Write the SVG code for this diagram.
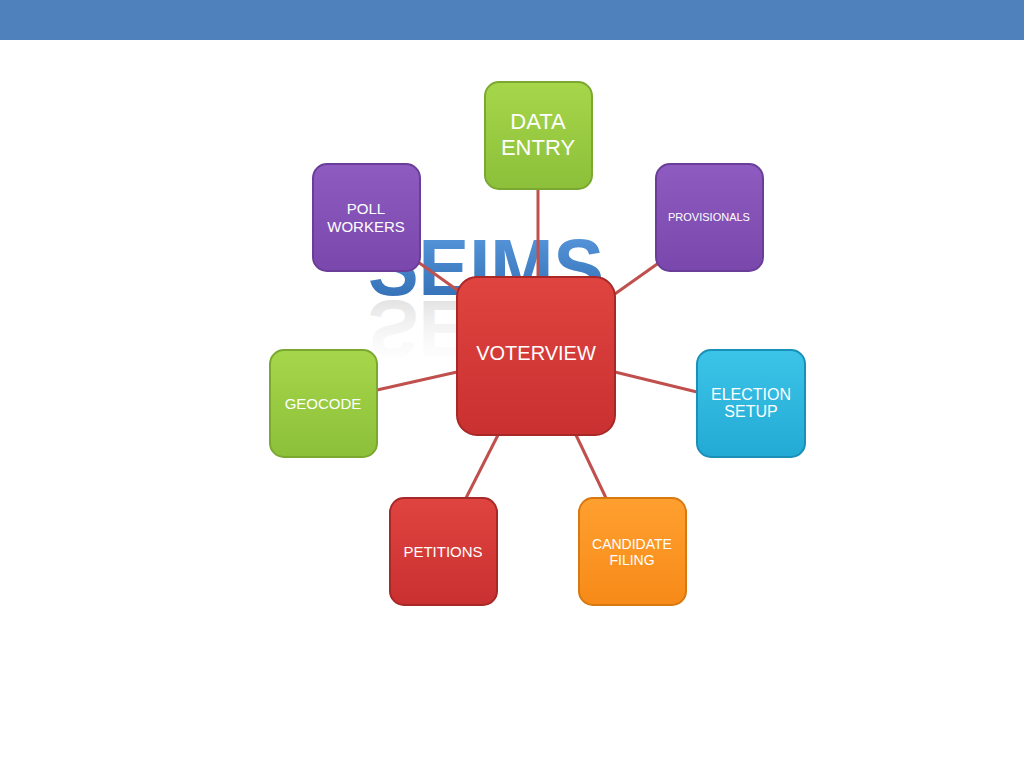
<svg xmlns="http://www.w3.org/2000/svg" width="1024" height="768" viewBox="0 0 1024 768">
<defs>
<linearGradient id="gG" x1="0" y1="0" x2="0" y2="1"><stop offset="0" stop-color="#a6d64a"/><stop offset="1" stop-color="#8cc03a"/></linearGradient>
<linearGradient id="gP" x1="0" y1="0" x2="0" y2="1"><stop offset="0" stop-color="#8e5cc0"/><stop offset="1" stop-color="#7a48ac"/></linearGradient>
<linearGradient id="gR" x1="0" y1="0" x2="0" y2="1"><stop offset="0" stop-color="#e04440"/><stop offset="1" stop-color="#c93030"/></linearGradient>
<linearGradient id="gC" x1="0" y1="0" x2="0" y2="1"><stop offset="0" stop-color="#3cc4e8"/><stop offset="1" stop-color="#22aad4"/></linearGradient>
<linearGradient id="gO" x1="0" y1="0" x2="0" y2="1"><stop offset="0" stop-color="#ffa030"/><stop offset="1" stop-color="#f78a18"/></linearGradient>
<linearGradient id="gS" x1="0" y1="0" x2="0" y2="1"><stop offset="0" stop-color="#5b9be0"/><stop offset="1" stop-color="#2e6ab0"/></linearGradient>
<linearGradient id="gRef" x1="0" y1="0" x2="0" y2="1"><stop offset="0" stop-color="#ffffff" stop-opacity="0"/><stop offset="1" stop-color="#999999" stop-opacity="0.8"/></linearGradient>
</defs>
<style>
.n{stroke-width:2}
.t{font-family:"Liberation Sans",Arial,sans-serif;fill:#fff;text-anchor:middle}
.c{stroke:#c0504d;stroke-width:3;fill:none}
.s{font-family:"Liberation Sans",Arial,sans-serif;font-weight:bold;font-size:80px}
</style>
<rect x="0" y="0" width="1024" height="40" fill="#4f81bd"/>
<g id="seims">
<text class="s" x="368" y="295" textLength="236" lengthAdjust="spacingAndGlyphs" fill="url(#gS)">SEIMS</text>
<text class="s" x="368" y="-301" transform="scale(1,-1)" textLength="236" lengthAdjust="spacingAndGlyphs" fill="url(#gRef)" opacity="0.5">SEIMS</text>
</g>
<g id="connectors">
<line class="c" x1="538" y1="189" x2="538" y2="277"/>
<line class="c" x1="418" y1="262" x2="460" y2="292"/>
<line class="c" x1="660" y1="262" x2="612" y2="296"/>
<line class="c" x1="377" y1="390" x2="457" y2="372"/>
<line class="c" x1="615" y1="372" x2="697" y2="392"/>
<line class="c" x1="466" y1="498" x2="498" y2="435"/>
<line class="c" x1="606" y1="498" x2="576" y2="435"/>
</g>
<g id="data-entry"><rect class="n" x="485" y="82" width="107" height="107" rx="14" fill="url(#gG)" stroke="#7aa830"/><text class="t" x="538" y="129" font-size="22">DATA</text><text class="t" x="538" y="155" font-size="22">ENTRY</text></g>
<g id="poll-workers"><rect class="n" x="313" y="164" width="107" height="107" rx="14" fill="url(#gP)" stroke="#6a3e98"/><text class="t" x="366" y="214" font-size="15">POLL</text><text class="t" x="366" y="232" font-size="15">WORKERS</text></g>
<g id="provisionals"><rect class="n" x="656" y="164" width="107" height="107" rx="14" fill="url(#gP)" stroke="#6a3e98"/><text class="t" x="709" y="221" font-size="11">PROVISIONALS</text></g>
<g id="voterview"><rect class="n" x="457" y="277" width="158" height="158" rx="20" fill="url(#gR)" stroke="#a82828"/><text class="t" x="536" y="360" font-size="20">VOTERVIEW</text></g>
<g id="geocode"><rect class="n" x="270" y="350" width="107" height="107" rx="14" fill="url(#gG)" stroke="#7aa830"/><text class="t" x="323" y="409" font-size="15">GEOCODE</text></g>
<g id="election-setup"><rect class="n" x="697" y="350" width="108" height="107" rx="14" fill="url(#gC)" stroke="#1a90b8"/><text class="t" x="751" y="400" font-size="16">ELECTION</text><text class="t" x="751" y="417" font-size="16">SETUP</text></g>
<g id="petitions"><rect class="n" x="390" y="498" width="107" height="107" rx="14" fill="url(#gR)" stroke="#a82828"/><text class="t" x="443" y="557" font-size="15">PETITIONS</text></g>
<g id="candidate-filing"><rect class="n" x="579" y="498" width="107" height="107" rx="14" fill="url(#gO)" stroke="#d87810"/><text class="t" x="632" y="549" font-size="14">CANDIDATE</text><text class="t" x="632" y="565" font-size="14">FILING</text></g>
</svg>
